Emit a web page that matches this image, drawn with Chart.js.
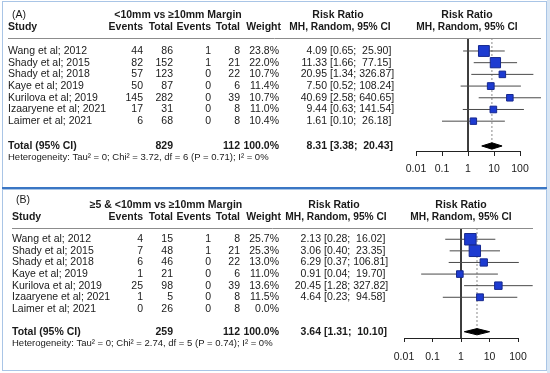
<!DOCTYPE html>
<html>
<head>
<meta charset="utf-8">
<script src="https://cdn.jsdelivr.net/npm/chart.js@4.4.1/dist/chart.umd.min.js"></script>
<style>
body { margin: 0; background: #fff; }
#wrap { position: relative; width: 550px; height: 373px; background: #fff; overflow: hidden; }
#wrap canvas { position: absolute; left: 0; }
.box { position: absolute; border: 1px solid #a9c5e6; box-sizing: border-box; }
</style>
</head>
<body>
<div id="wrap">
    <canvas id="chartA" width="550" height="187" style="top:0"></canvas>
    <canvas id="chartB" width="550" height="182" style="top:189px"></canvas>
    <div class="box" style="left:2px;top:1px;width:545px;height:187px"></div>
    <div style="position:absolute;left:2px;top:187px;width:545px;height:2px;background:#3a76c4"></div>
    <div class="box" style="left:2px;top:189px;width:545px;height:182px"></div>
    <div style="position:absolute;left:547px;top:0;width:3px;height:373px;background:#d9e6f4"></div>
</div>
<script>
// study names (same in both panels)
var studies = ["Wang et al; 2012", "Shady et al; 2015", "Shady et al; 2018", "Kaye et al; 2019",
    "Kurilova et al; 2019", "Izaaryene et al; 2021", "Laimer et al; 2021"];
var xTicks = [0.01, 0.1, 1, 10, 100]; // log axis ticks

// panel A: <10mm vs >=10mm
var aEventsExp = [44, 82, 57, 50, 145, 17, 6];
var aTotalExp = [86, 152, 123, 87, 282, 31, 68];
var aEventsCtl = [1, 1, 0, 0, 0, 0, 0];
var aTotalCtl = [8, 21, 22, 6, 39, 8, 8];
var aWeight = [23.8, 22.0, 10.7, 11.4, 10.7, 11.0, 10.4];
var aRR = [4.09, 11.33, 20.95, 7.50, 40.69, 9.44, 1.61];
var aLower = [0.65, 1.66, 1.34, 0.52, 2.58, 0.63, 0.10];
var aUpper = [25.90, 77.15, 326.87, 108.24, 640.65, 141.54, 26.18];
var aSummary = [8.31, 3.38, 20.43]; // estimate, lower, upper
var aTotals = [829, 112];
var aHet = "Heterogeneity: Tau\u00b2 = 0; Chi\u00b2 = 3.72, df = 6 (P = 0.71); I\u00b2 = 0%";

// panel B: >=5 & <10mm vs >=10mm
var bEventsExp = [4, 7, 6, 1, 25, 1, 0];
var bTotalExp = [15, 48, 46, 21, 98, 5, 26];
var bEventsCtl = [1, 1, 0, 0, 0, 0, 0];
var bTotalCtl = [8, 21, 22, 6, 39, 8, 8];
var bWeight = [25.7, 25.3, 13.0, 11.0, 13.6, 11.5, 0.0];
var bRR = [2.13, 3.06, 6.29, 0.91, 20.45, 4.64, null];
var bLower = [0.28, 0.40, 0.37, 0.04, 1.28, 0.23, null];
var bUpper = [16.02, 23.35, 106.81, 19.70, 327.82, 94.58, null];
var bSummary = [3.64, 1.31, 10.10];
var bTotals = [259, 112];
var bHet = "Heterogeneity: Tau\u00b2 = 0; Chi\u00b2 = 2.74, df = 5 (P = 0.74); I\u00b2 = 0%";

var FONT = "'Liberation Sans', Arial, sans-serif";
var TXT = "#1a1a1a";

function forestPanel(canvasId, d, lay) {
    var datasets = [];
    // squares (on top)
    var pts = [], radii = [];
    d.rr.forEach(function (v, i) {
        if (v == null) return;
        pts.push({ x: v, y: i });
        radii.push((3 + 0.33 * d.weight[i]) / Math.SQRT2);
    });
    datasets.push({
        type: 'scatter', data: pts, pointStyle: 'rect', pointRadius: radii,
        backgroundColor: '#1d3bd1', borderColor: '#16288f', borderWidth: 1, clip: false
    });
    // summary diamond
    var T = lay.totalRow, s = d.summary;
    datasets.push({
        type: 'line', data: [{ x: s[1], y: T }, { x: s[0], y: T - 0.27 }, { x: s[2], y: T }, { x: s[0], y: T + 0.27 }, { x: s[1], y: T }],
        borderColor: '#000', backgroundColor: '#000', borderWidth: 1, fill: 'shape', pointRadius: 0, tension: 0
    });
    // confidence intervals
    d.rr.forEach(function (v, i) {
        if (v == null) return;
        datasets.push({
            type: 'line', data: [{ x: d.lower[i], y: i }, { x: d.upper[i], y: i }],
            borderColor: '#4a4a4a', borderWidth: 1, pointRadius: 0, clip: false
        });
    });
    // dotted line at summary estimate
    datasets.push({
        type: 'line', data: [{ x: s[0], y: lay.yMin }, { x: s[0], y: T }],
        borderColor: '#8a8a8a', borderWidth: 1, borderDash: [2, 2], pointRadius: 0
    });
    // line of no effect
    datasets.push({
        type: 'line', data: [{ x: 1, y: lay.yMin }, { x: 1, y: lay.yMax }],
        borderColor: '#222', borderWidth: 1, pointRadius: 0
    });

    var tablePlugin = {
        id: 'table',
        afterDraw: function (chart) {
            var ctx = chart.ctx, ys = chart.scales.y;
            ctx.save();
            ctx.fillStyle = TXT;
            ctx.textBaseline = 'middle';
            function txt(str, x, y, align, bold, size) {
                ctx.font = (bold ? 'bold ' : '') + (size || lay.fs) + 'px ' + FONT;
                ctx.textAlign = align;
                ctx.fillText(str, x, y);
            }
            function ci(est, lo, hi, y, bold) {
                txt(est.toFixed(2), lay.estX, y, 'right', bold);
                txt('[' + lo.toFixed(2) + '; ' + hi.toFixed(2).padStart(6, ' ') + ']', lay.estX + 3, y, 'left', bold);
            }
            // headers
            txt(lay.label, lay.studyX + 4, lay.h0, 'left', false);
            txt(lay.title, lay.titleX, lay.h1, 'center', true);
            txt('Study', lay.studyX, lay.h2, 'left', true);
            txt('Events', lay.cols[0], lay.h2, 'right', true);
            txt('Total', lay.cols[1], lay.h2, 'right', true);
            txt('Events', lay.cols[2], lay.h2, 'right', true);
            txt('Total', lay.cols[3], lay.h2, 'right', true);
            txt('Weight', lay.cols[4] + 2, lay.h2, 'right', true);
            txt('Risk Ratio', lay.rrX, lay.h1, 'center', true);
            txt('MH, Random, 95% CI', lay.rrX + 2, lay.h2, 'center', true, lay.fs - 0.3);
            txt('Risk Ratio', lay.plotX, lay.h1, 'center', true);
            txt('MH, Random, 95% CI', lay.plotX, lay.h2, 'center', true, lay.fs - 0.3);
            // header rule
            ctx.strokeStyle = '#8c8c8c';
            ctx.lineWidth = 1;
            ctx.beginPath();
            ctx.moveTo(lay.studyX, chart.chartArea.top + 0.5);
            ctx.lineTo(lay.ruleEnd, chart.chartArea.top + 0.5);
            ctx.stroke();
            // study rows
            studies.forEach(function (name, i) {
                var y = ys.getPixelForValue(i);
                txt(name, lay.studyX, y, 'left', false);
                txt(String(d.evE[i]), lay.cols[0], y, 'right', false);
                txt(String(d.totE[i]), lay.cols[1], y, 'right', false);
                txt(String(d.evC[i]), lay.cols[2], y, 'right', false);
                txt(String(d.totC[i]), lay.cols[3], y, 'right', false);
                txt(d.weight[i].toFixed(1) + '%', lay.cols[4], y, 'right', false);
                if (d.rr[i] != null) ci(d.rr[i], d.lower[i], d.upper[i], y, false);
            });
            // total row
            var yt = ys.getPixelForValue(T);
            txt('Total (95% CI)', lay.studyX, yt, 'left', true);
            txt(String(d.totals[0]), lay.cols[1], yt, 'right', true);
            txt(String(d.totals[1]), lay.cols[3], yt, 'right', true);
            txt('100.0%', lay.cols[4], yt, 'right', true);
            ci(s[0], s[1], s[2], yt, true);
            txt(d.het, lay.studyX, lay.hetY, 'left', false, lay.hetFs);
            ctx.restore();
        }
    };

    new Chart(document.getElementById(canvasId), {
        data: { datasets: datasets },
        options: {
            responsive: false,
            animation: false,
            devicePixelRatio: 1,
            layout: { padding: lay.pad },
            plugins: { legend: { display: false }, tooltip: { enabled: false } },
            scales: {
                x: {
                    type: 'logarithmic', min: 0.01, max: 100,
                    afterBuildTicks: function (sc) { sc.ticks = xTicks.map(function (v) { return { value: v }; }); },
                    afterFit: function (sc) { sc.height = 30; },
                    ticks: {
                        autoSkip: false, maxRotation: 0, padding: lay.tickPad, color: TXT,
                        font: { family: FONT, size: lay.fs },
                        callback: function (v) { return String(v); }
                    },
                    grid: { drawOnChartArea: false, drawTicks: true, tickLength: lay.tickLen, color: '#222' },
                    border: { color: '#222' }
                },
                y: { type: 'linear', reverse: true, min: lay.yMin, max: lay.yMax, display: false }
            }
        },
        plugins: [tablePlugin]
    });
}

forestPanel('chartA', {
    evE: aEventsExp, totE: aTotalExp, evC: aEventsCtl, totC: aTotalCtl, weight: aWeight,
    rr: aRR, lower: aLower, upper: aUpper, summary: aSummary, totals: aTotals, het: aHet
}, {
    label: '(A)', title: '<10mm vs \u226510mm Margin', fs: 10.5, hetFs: 9.5,
    pad: { left: 416, right: 30, top: 38, bottom: 6 }, tickPad: 7, tickLen: 5,
    yMin: -1.11, yMax: 8.55, totalRow: 8.12,
    studyX: 8, titleX: 178, cols: [143, 173, 211, 240, 279], estX: 327, rrX: 338, plotX: 467,
    h0: 15, h1: 15, h2: 27, hetY: 157, ruleEnd: 541
});

forestPanel('chartB', {
    evE: bEventsExp, totE: bTotalExp, evC: bEventsCtl, totC: bTotalCtl, weight: bWeight,
    rr: bRR, lower: bLower, upper: bUpper, summary: bSummary, totals: bTotals, het: bHet
}, {
    label: '(B)', title: '\u22655 & <10mm vs \u226510mm Margin', fs: 10.5, hetFs: 9.5,
    pad: { left: 404, right: 32, top: 39, bottom: 3 }, tickPad: 9, tickLen: 4,
    yMin: -0.97, yMax: 8.51, totalRow: 7.97,
    studyX: 12, titleX: 166, cols: [143, 173, 211, 240, 279], estX: 321, rrX: 334, plotX: 461,
    h0: 11, h1: 16, h2: 28, hetY: 154, ruleEnd: 533
});
</script>
</body>
</html>
